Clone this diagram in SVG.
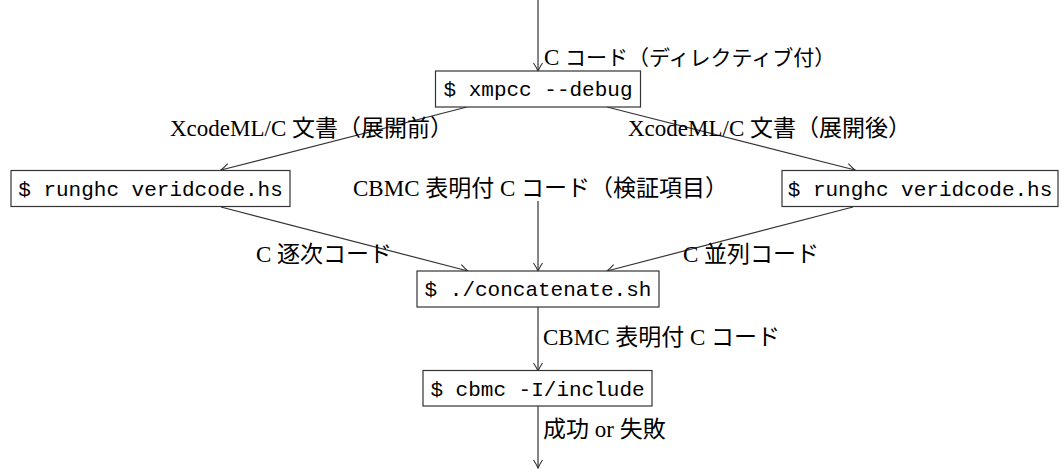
<svg xmlns="http://www.w3.org/2000/svg" width="1062" height="469" viewBox="0 0 1062 469">
  <style>
    .box { fill: #ffffff; stroke: #333333; stroke-width: 1.2; }
    .cmd { font-family: "Liberation Mono", "DejaVu Sans Mono", monospace; font-size: 21px; fill: #000000; text-anchor: middle; }
    .lbl { font-family: "Liberation Serif", "Noto Sans CJK JP", serif; font-size: 23px; fill: #000000; }
    .small { font-size: 21px; }
    .edge { fill: none; stroke: #333333; stroke-width: 1.2; marker-end: url(#arr); }
  </style>
  <defs>
    <marker id="arr" viewBox="-10 -6 12 12" refX="0" refY="0" markerWidth="12" markerHeight="12" markerUnits="userSpaceOnUse" orient="auto">
      <path d="M -8 -4.5 Q -3 -1.2 0 0 Q -3 1.2 -8 4.5" fill="none" stroke="#333333" stroke-width="1.1"/>
    </marker>
  </defs>
  <rect width="1062" height="469" fill="#ffffff"/>

  <g id="connectors">
    <line class="edge" x1="538" y1="0" x2="538" y2="71"/>
    <line class="edge" x1="467" y1="107" x2="221" y2="170"/>
    <line class="edge" x1="607" y1="107" x2="855" y2="170"/>
    <line class="edge" x1="221" y1="207" x2="468" y2="271"/>
    <line class="edge" x1="853" y1="207" x2="607" y2="271"/>
    <line class="edge" x1="538" y1="201" x2="538" y2="271"/>
    <line class="edge" x1="538" y1="307" x2="538" y2="371"/>
    <line class="edge" x1="538" y1="406" x2="538" y2="468"/>
    <text class="lbl" x="544" y="65">C <tspan class="small">コード（ディレクティブ付）</tspan></text>
    <text class="lbl" x="170" y="136">XcodeML/C 文書（展開前）</text>
    <text class="lbl" x="628" y="136">XcodeML/C 文書（展開後）</text>
    <text class="lbl" x="353" y="196">CBMC 表明付 C コード（検証項目）</text>
    <text class="lbl" x="256" y="262">C 逐次コード</text>
    <text class="lbl" x="683" y="262">C 並列コード</text>
    <text class="lbl" x="543" y="345">CBMC 表明付 C コード</text>
    <text class="lbl" x="543" y="437">成功 or 失敗</text>
  </g>

  <g id="node-xmpcc">
    <rect class="box" x="435.5" y="71" width="205" height="36"/>
    <text class="cmd" x="538" y="96">$ xmpcc --debug</text>
  </g>
  <g id="node-runghc-left">
    <rect class="box" x="11" y="170.5" width="279" height="36"/>
    <text class="cmd" x="150.5" y="195.5">$ runghc veridcode.hs</text>
  </g>
  <g id="node-runghc-right">
    <rect class="box" x="782" y="170.5" width="276" height="36"/>
    <text class="cmd" x="920" y="195.5">$ runghc veridcode.hs</text>
  </g>
  <g id="node-concatenate">
    <rect class="box" x="417" y="271" width="242" height="36"/>
    <text class="cmd" x="538" y="296">$ ./concatenate.sh</text>
  </g>
  <g id="node-cbmc">
    <rect class="box" x="423" y="370.5" width="229" height="35.5"/>
    <text class="cmd" x="537.5" y="395.5">$ cbmc -I/include</text>
  </g>
</svg>
